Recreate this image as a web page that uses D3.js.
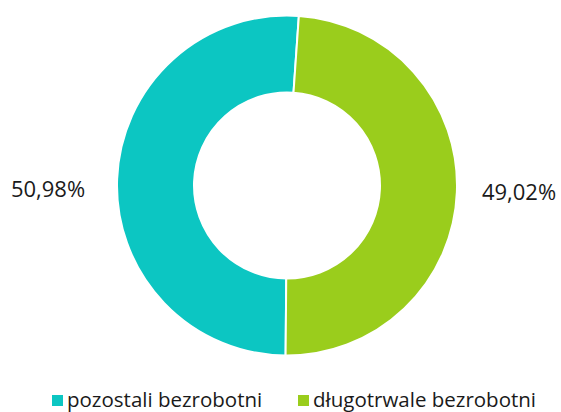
<!DOCTYPE html>
<html>
<head>
<meta charset="utf-8">
<script src="https://cdn.jsdelivr.net/npm/d3@7"></script>
<style>
  html, body { margin: 0; padding: 0; background: #fff; }
  text { font-family: "Open Sans", sans-serif; fill: #1a1a1a; }
</style>
</head>
<body>
<script>
var categories = ['pozostali bezrobotni', 'długotrwale bezrobotni'];
var values = [50.98, 49.02];
var labels = ['50,98%', '49,02%'];
var colors = ['#0cc6c2', '#9acd1c'];

var width = 561, height = 412;
var cx = 287, cy = 185.5,
  outerR = 170, innerR = 93;

var svg = d3.select('body').append('svg')
  .attr('width', width)
  .attr('height', height);

// the second slice starts just right of 12 o'clock, first one fills the rest
var offset = 4 * Math.PI / 180;
var total = d3.sum(values);
var greenEnd = offset + 2 * Math.PI * values[1] / total;
var pie = d3.pie().sort(null).value(function (d) { return d; })
  .startAngle(greenEnd)
  .endAngle(greenEnd + 2 * Math.PI);
var arcs = pie(values);

var arc = d3.arc().innerRadius(innerR).outerRadius(outerR);

var g = svg.append('g').attr('transform', 'translate(' + cx + ',' + cy + ')');
g.selectAll('path.slice').data(arcs).enter().append('path')
  .attr('class', 'slice')
  .attr('d', arc)
  .attr('fill', function (d, i) { return colors[i]; })
  .attr('stroke', '#fff')
  .attr('stroke-width', 2);

// value labels
var labelPos = [[48, 197], [519, 200]];
svg.selectAll('text.value').data(labels).enter().append('text')
  .attr('class', 'value')
  .attr('x', function (d, i) { return labelPos[i][0]; })
  .attr('y', function (d, i) { return labelPos[i][1]; })
  .attr('text-anchor', 'middle')
  .style('font-size', '22px')
  .text(function (d) { return d; });

// legend
var legendX = [52, 298];
var legend = svg.selectAll('g.legend').data(categories).enter().append('g')
  .attr('class', 'legend')
  .attr('transform', function (d, i) { return 'translate(' + legendX[i] + ',400)'; });
legend.append('rect').attr('x', 0).attr('y', -5).attr('width', 11).attr('height', 11)
  .attr('fill', function (d, i) { return colors[i]; });
legend.append('text').attr('x', 15).attr('y', 7)
  .style('font-size', '20.5px').text(function (d) { return d; });
</script>
</body>
</html>
